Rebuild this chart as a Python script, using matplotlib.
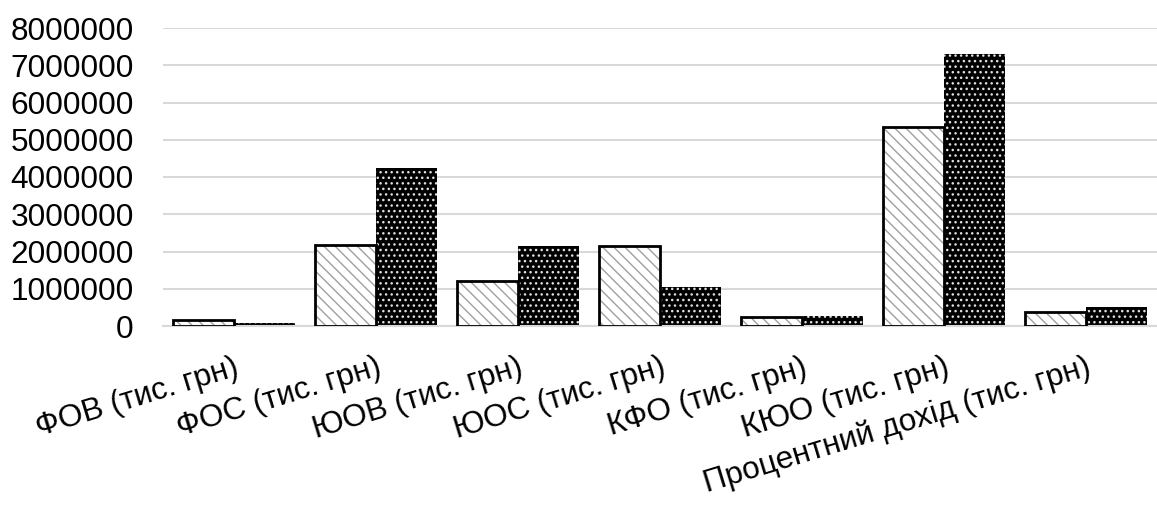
import matplotlib.pyplot as plt
import numpy as np

categories = [
    "ФОВ (тис. грн)",
    "ФОС (тис. грн)",
    "ЮОВ (тис. грн)",
    "ЮОС (тис. грн)",
    "КФО (тис. грн)",
    "КЮО (тис. грн)",
    "Процентний дохід (тис. грн)",
]
series_a = [170000, 2170000, 1210000, 2150000, 240000, 5340000, 380000]
series_b = [90000, 4230000, 2150000, 1050000, 260000, 7290000, 510000]
y_ticks = [0, 1000000, 2000000, 3000000, 4000000, 5000000, 6000000, 7000000, 8000000]

plt.rcParams["font.family"] = ["Liberation Sans", "DejaVu Sans"]
plt.rcParams["hatch.linewidth"] = 1.0

fig = plt.figure(figsize=(11.57, 5.15), dpi=100)
ax = fig.add_axes([163 / 1157, 1 - 326 / 515, 1 - 163 / 1157, 298 / 515])

x = np.arange(len(categories))
w = 0.43

# light bars: grey diagonal hatching inside a black outline
ax.bar(x - w / 2, series_a, w, color="white", edgecolor="#a0a0a0",
       hatch="\\\\\\", linewidth=0, zorder=2)
ax.bar(x - w / 2, series_a, w, color="none", edgecolor="black",
       linewidth=2, zorder=3)

# dark bars: black with a white dotted pattern
ax.bar(x + w / 2, series_b, w, color="black", edgecolor="#e0e0e0",
       hatch="...", linewidth=0, zorder=2)

ax.set_xlim(-0.5, len(categories) - 0.5)
ax.set_ylim(0, 8000000)
ax.set_yticks(y_ticks)
ax.set_yticklabels([str(v) for v in y_ticks], fontsize=22.7)
ax.set_xticks(x)
ax.set_xticklabels(categories, fontsize=22.7, rotation=17, ha="right",
                   rotation_mode="anchor")

ax.tick_params(axis="y", length=0, pad=21)
ax.tick_params(axis="x", length=0, pad=19)
ax.grid(axis="y", color="#d9d9d9", linewidth=1.5, zorder=0)
ax.set_axisbelow(True)
for side in ["left", "right", "top"]:
    ax.spines[side].set_visible(False)
ax.spines["bottom"].set_color("#d9d9d9")
ax.spines["bottom"].set_linewidth(1.5)

fig.savefig("out.png", dpi=100, facecolor="white")
